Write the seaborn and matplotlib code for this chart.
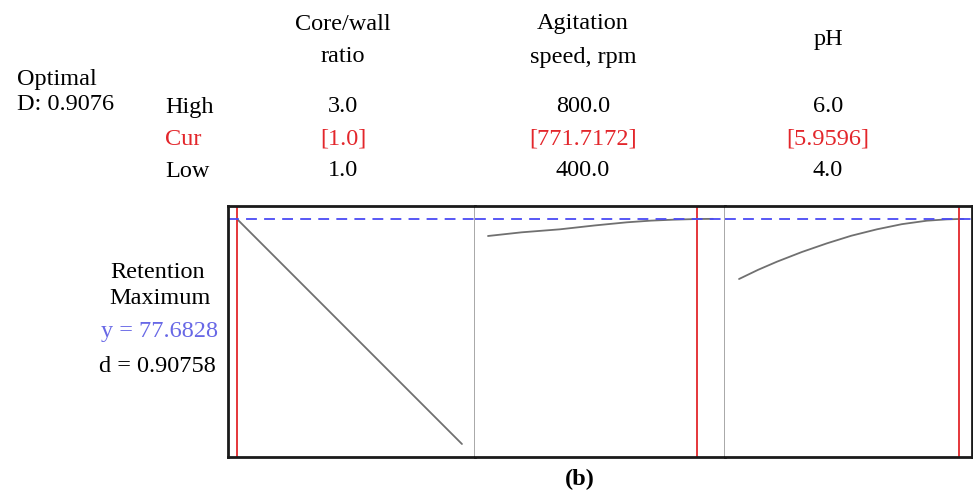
import numpy as np
import pandas as pd
import seaborn as sns
import matplotlib.pyplot as plt

sns.set_theme(style='white')
plt.rcParams['font.family'] = ['Liberation Serif', 'DejaVu Serif']
plt.rcParams['text.color'] = 'black'

# factor settings
factor_names = [['Core/wall', 'ratio'], ['Agitation', 'speed, rpm'], ['pH']]
high_vals = ['3.0', '800.0', '6.0']
cur_vals = [1.0, 771.7172, 5.9596]
cur_labels = ['[1.0]', '[771.7172]', '[5.9596]']
low_vals = ['1.0', '400.0', '4.0']

# response traces
core_x = [1.0, 1.5, 2.0, 2.5, 3.0]
core_y = [77.68, 68.68, 59.68, 50.68, 41.68]
agit_x = [400, 460, 528, 590, 647, 690, 729, 772, 800]
agit_y = [74.96, 75.55, 76.03, 76.65, 77.15, 77.42, 77.57, 77.68, 77.70]
ph_x = [4.0, 4.17, 4.338, 4.56, 4.784, 5.0, 5.229, 5.45, 5.675, 5.85, 5.96, 6.0]
ph_y = [68.08, 69.55, 70.85, 72.40, 73.79, 75.00, 76.03, 76.85, 77.41, 77.62, 77.68, 77.68]

y_opt = 77.6828
d_val = 0.90758
D_val = 0.9076

traces = [(core_x, core_y), (agit_x, agit_y), (ph_x, ph_y)]
xlims = [(0.92, 3.116), (376.9, 821.5), (3.875, 6.076)]
ylim = (39.6, 79.76)

fig = plt.figure(figsize=(9.73, 4.93), dpi=100)
W, H = 973, 493

def fx(px):
    return px / W

def fy(py):
    return 1 - py / H

edges = [228, 475, 725, 972]
red = '#e3262b'
blue = '#4a4af5'
for i in range(3):
    ax = fig.add_axes([fx(edges[i]), fy(457), fx(edges[i + 1] - edges[i]), (457 - 206) / H])
    df = pd.DataFrame({'x': traces[i][0], 'y': traces[i][1]})
    sns.lineplot(data=df, x='x', y='y', ax=ax, color='#707070', lw=1.3)
    ax.axvline(cur_vals[i], color=red, lw=1.3)
    ax.axhline(y_opt, color=blue, lw=1.3, ls=(0, (6, 4)))
    ax.set_xlim(*xlims[i])
    ax.set_ylim(*ylim)
    ax.set_xticks([])
    ax.set_yticks([])
    ax.set_xlabel('')
    ax.set_ylabel('')
    for s in ['top', 'bottom']:
        ax.spines[s].set_color('#1a1a1a')
        ax.spines[s].set_linewidth(2)
    ax.spines['left'].set_visible(i == 0)
    ax.spines['right'].set_color('#1a1a1a' if i == 2 else '#a8a8a8')
    ax.spines['right'].set_linewidth(2 if i == 2 else 1.4)
    if i == 0:
        ax.spines['left'].set_color('#1a1a1a')
        ax.spines['left'].set_linewidth(2)

fs = 17.5
col_x = [343, 583, 828]
for i in range(3):
    lines = factor_names[i]
    ys = [24, 57] if len(lines) == 2 else [40]
    for t, yy in zip(lines, ys):
        fig.text(fx(col_x[i]), fy(yy), t, ha='center', va='center', fontsize=fs)
    fig.text(fx(col_x[i]), fy(106), high_vals[i], ha='center', va='center', fontsize=fs)
    fig.text(fx(col_x[i]), fy(139), cur_labels[i], ha='center', va='center', fontsize=fs, color=red)
    fig.text(fx(col_x[i]), fy(170), low_vals[i], ha='center', va='center', fontsize=fs)

fig.text(fx(165), fy(107), 'High', ha='left', va='center', fontsize=fs)
fig.text(fx(165), fy(140), 'Cur', ha='left', va='center', fontsize=fs, color=red)
fig.text(fx(165), fy(172), 'Low', ha='left', va='center', fontsize=fs)

fig.text(fx(17), fy(80), 'Optimal', ha='left', va='center', fontsize=fs)
fig.text(fx(17), fy(104), 'D: %.4f' % D_val, ha='left', va='center', fontsize=fs)

fig.text(fx(158), fy(273), 'Retention', ha='center', va='center', fontsize=fs)
fig.text(fx(160), fy(298), 'Maximum', ha='center', va='center', fontsize=fs)
fig.text(fx(218), fy(332), 'y = %.4f' % y_opt, ha='right', va='center', fontsize=fs, color='#6868e6')
fig.text(fx(216), fy(367), 'd = %.5f' % d_val, ha='right', va='center', fontsize=fs)

fig.text(fx(580), fy(479), '(b)', ha='center', va='center', fontsize=fs, fontweight='bold')

fig.savefig('out.png', dpi=100)
